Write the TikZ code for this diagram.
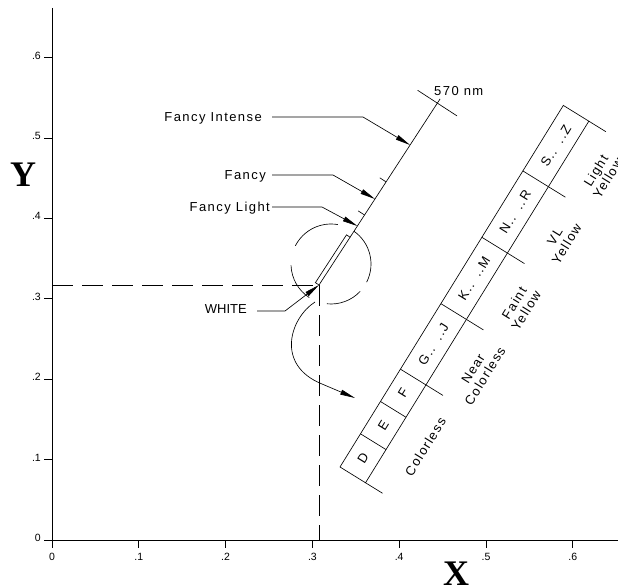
\documentclass[tikz,border=0pt]{standalone}
\usepackage{fontspec}
\newfontfamily\cadfont{Liberation Sans}[LetterSpace=11]
\newfontfamily\cadnum{Liberation Sans}
\newfontfamily\bigserif{Liberation Serif}
\usetikzlibrary{arrows.meta}
\begin{document}
\begin{tikzpicture}[x=1pt,y=-1pt,
  axisline/.style={line width=0.9pt},
  ln/.style={line width=0.65pt},
  dashln/.style={line width=0.65pt, dash pattern=on 21pt off 9pt},
  lbl/.style={font=\cadfont\fontsize{13}{14}\selectfont, inner sep=0pt},
  lblcaps/.style={font=\cadnum\fontsize{13}{14}\selectfont, inner sep=0pt},
  ticklbl/.style={font=\cadnum\fontsize{10.5}{12}\selectfont, inner sep=0pt},
  axlbl/.style={font=\bigserif\bfseries\fontsize{36}{40}\selectfont, inner sep=0pt},
  leader/.style={ln, -{Triangle[length=15pt,width=5pt]}},
  cell/.style={lbl, transform shape},
  grp/.style={lbl, transform shape, align=center, anchor=north},
]
\useasboundingbox (0,0) rectangle (618,585);

% axes
\coordinate (O) at (52,540);
\coordinate (ytop) at (52,8);
\coordinate (ybot) at (52,548);
\coordinate (xl) at (44,540);
\coordinate (xr) at (620,540);
\draw[axisline] (ytop) -- (ybot);
\draw[axisline] (xl) -- (xr);
\foreach \v/\t in {1/.1,2/.2,3/.3,4/.4,5/.5,6/.6}{
  \draw[axisline] (44,540-80.4*\v) -- (52,540-80.4*\v);
  \node[ticklbl, anchor=base east] (yl\v) at (41,541.5-80.4*\v) {\t};
  \draw[axisline] (52+86.8*\v,540) -- (52+86.8*\v,548);
  \node[ticklbl, anchor=base] (xl\v) at (52+86.8*\v,560) {\t};
}
\node[ticklbl, anchor=base east] (yl0) at (41,541.5) {0};
\node[ticklbl, anchor=base] (xl0) at (52,560) {0};
\node[axlbl] (Ylab) at (23,175) {Y};
\node[axlbl, anchor=north] (Xlab) at (456,562) {X};

% white point and dashed lines
\coordinate (W) at (319,285);
\draw[dashln] (W -| O) -- (W);
\draw[dashln] (W) -- (W |- O);

% main 570 nm line
\begin{scope}[shift={(319,285)}, rotate=56.95]
  \draw[ln] (0,0) rectangle (57,-4.3);
  \draw[ln] (57,0) -- (222,0);
  \draw[ln] (217,-23.5) -- (217,23.5);
  \draw[ln] (83.5,0) -- (83.5,-7.5);
  \draw[ln] (123,0) -- (123,-7.5);
  \coordinate (tFL) at (70.4,0);
  \coordinate (tF) at (102.6,0);
  \coordinate (tFI) at (167,0);
\end{scope}
\node[lbl, anchor=base west] (nm) at (434,96) {570 nm};

% circle arcs
\coordinate (cc) at (331,264);
\draw[ln] ([shift={(80:40pt)}]cc) arc[start angle=80, end angle=153, radius=40pt];
\draw[ln] ([shift={(-27:40pt)}]cc) arc[start angle=-27, end angle=55, radius=40pt];
\draw[ln] ([shift={(-96:40pt)}]cc) arc[start angle=-96, end angle=-43, radius=40pt];
\draw[ln] ([shift={(182:40pt)}]cc) arc[start angle=182, end angle=237, radius=40pt];

% leaders
\node[lbl, anchor=base east] (fi) at (262,121.5) {Fancy Intense};
\coordinate (fis) at (272,117); \coordinate (fib) at (363,117);
\draw[leader] (fis) -- (fib) -- (tFI);
\node[lbl, anchor=base east] (fa) at (266,179.5) {Fancy};
\coordinate (fas) at (272,175); \coordinate (fab) at (333,175);
\draw[leader] (fas) -- (fab) -- (tF);
\node[lbl, anchor=base east] (fl) at (270,211.5) {Fancy Light};
\coordinate (fls) at (272,207); \coordinate (flb) at (322,207);
\draw[leader] (fls) -- (flb) -- (tFL);
\node[lblcaps, anchor=base east] (wh) at (247,313.5) {WHITE};
\coordinate (whs) at (257,311); \coordinate (whb) at (285,311);
\draw[leader] (whs) -- (whb) -- (W);

% curved arrow
\coordinate (cs) at (315,302);
\coordinate (cm) at (322,384);
\coordinate (ce) at (355,398);
\draw[leader] (cs) .. controls (290,318) and (275,365) .. (cm) -- (ce);

% colour scale bar
\begin{scope}[shift={(340,467)}, rotate=58.3]
  \draw[ln] (0,0) rectangle (425,30);
  \foreach \s in {39,77,115,192,270,348} \draw[ln] (\s,0) -- (\s,30);
  \foreach \s in {0,115,192,270,348,425} \draw[ln] (\s,30) -- (\s,50);
  \node[cell] (cD) at (19.5,15) {D};
  \node[cell] (cE) at (58,15) {E};
  \node[cell] (cF) at (96,15) {F};
  \node[cell] (cG) at (153.5,15) {G..\hspace{9pt}..J};
  \node[cell] (cK) at (231,15) {K..\hspace{9pt}..M};
  \node[cell] (cN) at (309,15) {N..\hspace{9pt}..R};
  \node[cell] (cS) at (386.5,15) {S..\hspace{9pt}..Z};
  \node[grp] (g1) at (62,57) {Colorless};
  \node[grp] (g2) at (153.5,57) {Near\\Colorless};
  \node[grp] (g3) at (231,57) {Faint\\Yellow};
  \node[grp] (g4) at (309,57) {VL\\Yellow};
  \node[grp] (g5) at (386.5,57) {Light\\Yellow};
\end{scope}
\end{tikzpicture}
\end{document}
